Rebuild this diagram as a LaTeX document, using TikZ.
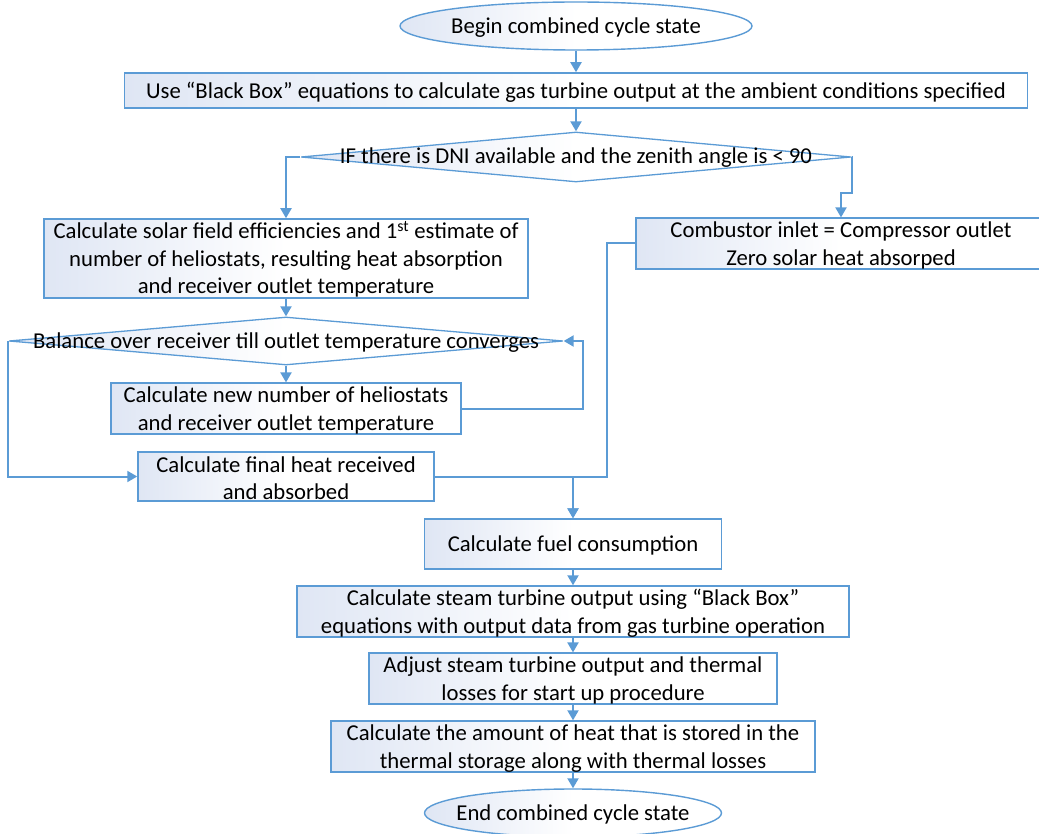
\documentclass[tikz,border=0pt]{standalone}
\usepackage{fontspec}
\setmainfont{Carlito}
\usetikzlibrary{shapes.geometric,arrows.meta}
\definecolor{lineblue}{HTML}{5B9BD5}
\definecolor{edgeblue}{HTML}{5B9BD5}
\definecolor{fillblue}{HTML}{DFE6F4}
\newcommand\firststrut{\rule{0pt}{19.5pt}}
\begin{document}
\begin{tikzpicture}[x=1pt,y=-1pt,
  every node/.style={font=\fontsize{22.7}{27.5}\selectfont, text=black},
  every label/.style={text height=19.5pt},
  shadefill/.style={left color=fillblue, right color=white, middle color=white},
  stepbox/.style={rectangle, draw=edgeblue, line width=1.5pt, shadefill, inner sep=0pt, align=center},
  termbox/.style={ellipse, draw=edgeblue, line width=1.4pt, shadefill, inner sep=0pt},
  decbox/.style={diamond, draw=edgeblue, line width=1.3pt, shadefill, inner sep=0pt},
  conn/.style={draw=lineblue, line width=2pt, line join=miter, -{Triangle[length=10pt,width=11pt]}}
]
\useasboundingbox (0,0) rectangle (1039,834);

\node[termbox, minimum width=352pt, minimum height=48pt, label=center:{Begin combined cycle state}] (begin) at (576,26) {};
\node[stepbox, minimum width=903pt, minimum height=35pt] (gt) at (576,90.5)
  {\firststrut Use “Black Box” equations to calculate gas turbine output at the ambient conditions specified};
\node[decbox, minimum width=550pt, minimum height=50pt, label={[text height=16pt]center:{IF there is DNI available and the zenith angle is < 90}}] (dni) at (576,157) {};
\node[stepbox, minimum width=484pt, minimum height=79pt] (solar) at (286,258.5)
  {\firststrut Calculate solar field efficiencies and 1\textsuperscript{st} estimate of\\number of heliostats, resulting heat absorption\\and receiver outlet temperature};
\node[stepbox, minimum width=410pt, minimum height=47pt] (comb) at (841,243.5)
  {\firststrut Combustor inlet = Compressor outlet\\Zero solar heat absorped};
\node[decbox, minimum width=554pt, minimum height=48pt, label=center:{Balance over receiver till outlet temperature converges}] (bal) at (286,341) {};
\node[stepbox, minimum width=350pt, minimum height=49pt] (newh) at (286,408.5)
  {\firststrut Calculate new number of heliostats\\and receiver outlet temperature};
\node[stepbox, minimum width=296pt, minimum height=49pt] (final) at (286,476.5)
  {\firststrut Calculate final heat received\\and absorbed};
\node[stepbox, minimum width=297pt, minimum height=50pt] (fuel) at (573,544)
  {\firststrut Calculate fuel consumption};
\node[stepbox, minimum width=552pt, minimum height=49pt] (steam) at (573,611.5)
  {\firststrut Calculate steam turbine output using “Black Box”\\equations with output data from gas turbine operation};
\node[stepbox, minimum width=408pt, minimum height=49pt] (adjust) at (573,678.5)
  {\firststrut Adjust steam turbine output and thermal\\losses for start up procedure};
\node[stepbox, minimum width=484pt, minimum height=49pt] (storage) at (573,746.5)
  {\firststrut Calculate the amount of heat that is stored in the\\thermal storage along with thermal losses};
\node[termbox, minimum width=297pt, minimum height=48pt, label=center:{End combined cycle state}] (end) at (573,813) {};

\coordinate (rj) at (852,193);
\coordinate (loopc) at (583,341);
\coordinate (cj) at (607,476.5);

\draw[conn] (begin.south) -- (gt.north);
\draw[conn] (gt.south) -- (dni.north);
\draw[conn] (dni.west) -| (solar.north);
\draw[conn] (dni.east) -| (rj) -| (comb.north);
\draw[conn] (solar.south) -- (bal.north);
\draw[conn] (bal.south) -- (newh.north);
\draw[conn] (newh.east) -| (loopc) -- (bal.east);
\draw[conn] (bal.west) |- (final.west);
\draw[conn] (final.east) -| (fuel.north);
\draw[conn] (comb.west) -| (cj) -| (fuel.north);
\draw[conn] (fuel.south) -- (steam.north);
\draw[conn] (steam.south) -- (adjust.north);
\draw[conn] (adjust.south) -- (storage.north);
\draw[conn] (storage.south) -- (end.north);
\end{tikzpicture}
\end{document}
